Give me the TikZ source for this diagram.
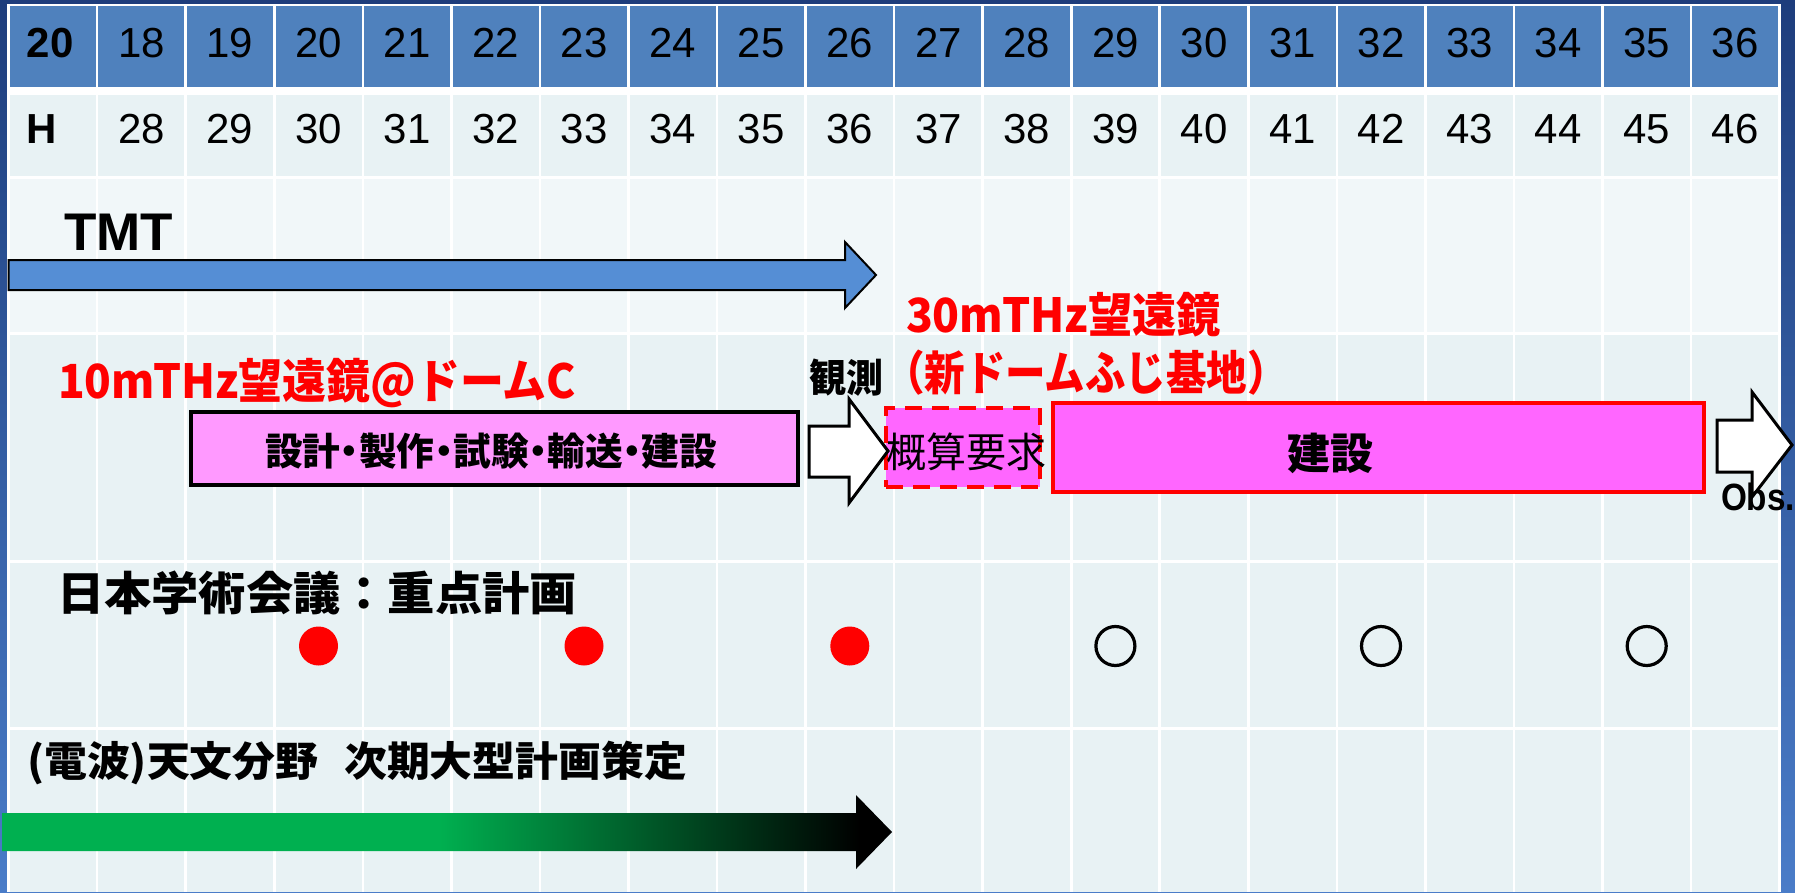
\documentclass[tikz,border=0pt]{standalone}
\usepackage{fontspec}
\setmainfont{Liberation Sans}
\newfontfamily\cjk{Noto Sans CJK JP}
\usepackage{graphicx}
\definecolor{hdr}{HTML}{4F81BD}
\definecolor{rowa}{HTML}{E8F2F4}
\definecolor{rowb}{HTML}{F1F7F9}
\definecolor{bgtop}{HTML}{1E3D7C}
\definecolor{bgbot}{HTML}{4A7CC8}
\definecolor{tmtblue}{HTML}{558ED5}
\definecolor{pinka}{HTML}{FF99FF}
\definecolor{pinkb}{HTML}{FF66FF}
\definecolor{ggreen}{HTML}{00B050}
\pgfdeclarehorizontalshading{gbshade}{100bp}{color(0bp)=(ggreen); color(49.5bp)=(ggreen); color(73.2bp)=(black); color(100bp)=(black)}
\newcommand{\fsz}[1]{\fontsize{#1}{#1}\selectfont}
\newcommand{\hfit}[2]{\resizebox{#1}{\height}{#2}}
\newcommand{\mdt}{\hspace{-0.25em}・\hspace{-0.25em}}
\tikzset{
  txt/.style={inner sep=0pt, outer sep=0pt},
  blockarrow/.style={draw=black, fill=white, line width=3pt, line join=miter},
  reddot/.style={circle, fill=red, minimum size=39pt, inner sep=0pt},
  opendot/.style={circle, draw=black, line width=3.2pt, minimum size=39pt, inner sep=0pt},
}
\begin{document}
\begin{tikzpicture}[x=1pt,y=-1pt]
\useasboundingbox (0,0) rectangle (1795,892);
% slide background
\shade[top color=bgtop, bottom color=bgbot] (0,0) rectangle (1795,892);
% table
\fill[white] (7.3,4.3) rectangle (1781,892);
\foreach \ya/\yb/\cc in {6/87/hdr, 95/176/rowa, 178.5/332/rowb, 335/559.5/rowa, 562.5/726.5/rowa, 729.5/892/rowa}{
  \foreach \k in {0,...,19}{
    \fill[\cc] ({8.6+88.55*\k+1.3},\ya) rectangle ({8.6+88.55*(\k+1)-1.3},\yb);
  }
}
% header labels
\node[txt, anchor=base west, font=\fsz{42}\bfseries] (c0) at (27,57) {20};
\node[txt, anchor=base west, font=\fsz{42}\bfseries] (r0) at (27,143) {H};
\foreach \i [evaluate=\i as \yr using int(\i+17), evaluate=\i as \hh using int(\i+27)] in {1,...,19}{
  \node[txt, anchor=base, font=\fsz{42}] (y\i) at ({8.6+88.55*\i+44.27},57) {\yr};
  \node[txt, anchor=base, font=\fsz{42}] (h\i) at ({8.6+88.55*\i+44.27},143) {\hh};
}
% TMT
\node[txt, anchor=base west, font=\fsz{53}\bfseries] (tmt) at (64,250) {TMT};
\draw[fill=tmtblue, line width=2pt, line join=miter] (8.6,260) -- (845,260) -- (845,242) -- (876,275) -- (845,308) -- (845,290) -- (8.6,290) -- cycle;
% 10m THz
\node[txt, anchor=base west, text=red] (t10) at (58,398) {\hfit{518pt}{\cjk\bfseries\fsz{47}10mTHz望遠鏡@ドームC}};
\node[txt, draw=black, line width=3.5pt, fill=pinka, minimum width=607pt, minimum height=73pt] (box1) at (494.5,448.5) {};
\node[txt, anchor=base] (box1t) at (491,465.5) {\hfit{452pt}{\cjk\bfseries\fsz{38}設計\mdt 製作\mdt 試験\mdt 輸送\mdt 建設}};
\node[txt, anchor=base west] (obs1) at (809,392) {\hfit{74pt}{\cjk\bfseries\fsz{39}観測}};
% 30m THz
\node[txt, anchor=base west, text=red] (t30) at (906,332) {\hfit{315pt}{\cjk\bfseries\fsz{47}30mTHz望遠鏡}};
\node[txt, anchor=base west, text=red] (t30b) at (884,390) {\hfit{404pt}{\cjk\bfseries\fsz{47}（新ドームふじ基地）}};
\node[txt, draw=red, dash pattern=on 17pt off 10pt, line width=3.5pt, fill=pinkb, minimum width=154pt, minimum height=79pt] (box2) at (963,447.5) {};
\node[txt, anchor=base] (box2t) at (966.5,467) {\hfit{160pt}{\cjk\fsz{41}概算要求}};
\node[txt, draw=red, line width=4.5pt, fill=pinkb, minimum width=651pt, minimum height=89pt] (box3) at (1378.5,447.5) {};
\node[txt, anchor=base] (box3t) at (1330,469) {\cjk\bfseries\fsz{43}建設};
\draw[blockarrow] (809,426) -- (849,426) -- (849,399) -- (888,451) -- (849,503) -- (849,477) -- (809,477) -- cycle;
\draw[blockarrow] (1717,420) -- (1752,420) -- (1752,392) -- (1792,445) -- (1752,497) -- (1752,472) -- (1717,472) -- cycle;
\node[txt, anchor=base west] (obs2) at (1721,510) {\hfit{74pt}{\bfseries\fsz{38}Obs.}};
% Science Council
\node[txt, anchor=base west] (scj) at (57,610) {\hfit{520pt}{\cjk\bfseries\fsz{46}日本学術会議：重点計画}};
\node[reddot] (d1) at (318.5,646) {};
\node[reddot] (d2) at (584,646) {};
\node[reddot] (d3) at (849.8,646) {};
\node[opendot] (o1) at (1115.4,646) {};
\node[opendot] (o2) at (1381,646) {};
\node[opendot] (o3) at (1646.7,646) {};
% radio astronomy
\node[txt, anchor=base west] (radio) at (27,776) {\hfit{660pt}{\cjk\bfseries\fsz{41}(電波)天文分野　\hspace{-0.4em}次期大型計画策定}};
\path[shading=gbshade] (2,813) -- (856,813) -- (856,795) -- (892,832) -- (856,869) -- (856,851) -- (2,851) -- cycle;
\end{tikzpicture}
\end{document}
